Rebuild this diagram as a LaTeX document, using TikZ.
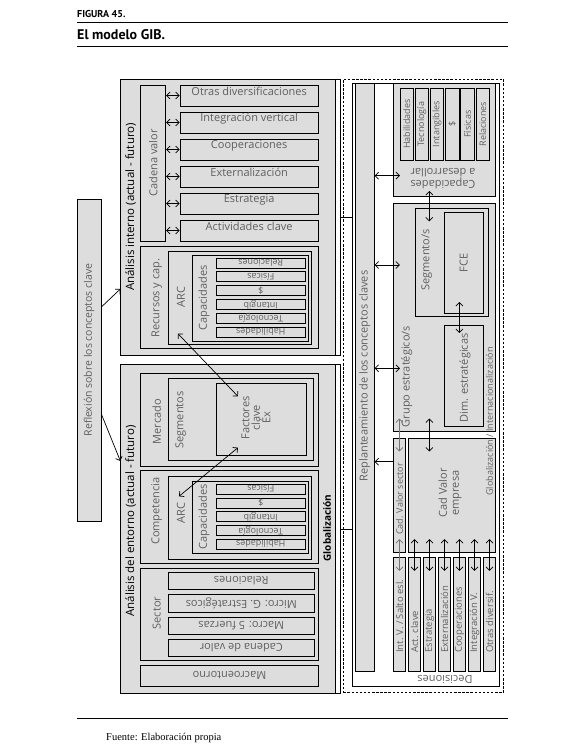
\documentclass[tikz,border=0pt]{standalone}
\usepackage{fontspec}
\setmainfont{Open Sans}
\newfontfamily\headfont{PT Sans}
\newfontfamily\notefont{Liberation Serif}
\usetikzlibrary{arrows.meta,positioning,fit}
\definecolor{boxgray}{RGB}{221,221,221}
\definecolor{labelgray}{RGB}{95,95,95}

\begin{document}
\begin{tikzpicture}[x=1pt, y=-1pt,
    box/.style={draw, fill=boxgray, line width=0.7pt, inner sep=0pt},
    frame/.style={draw, line width=0.7pt, inner sep=0pt},
    tag/.style={text=labelgray, font=\fontsize{11}{12}\selectfont, inner sep=0pt},
    tiny/.style={text=labelgray, font=\fontsize{9}{10}\selectfont, inner sep=0pt},
    title/.style={font=\fontsize{11.5}{12}\selectfont, inner sep=0pt},
    dbl/.style={{Straight Barb[length=3.5pt,width=7pt]}-{Straight Barb[length=3.5pt,width=7pt]}, line width=0.7pt},
    one/.style={-{Straight Barb[length=3.5pt,width=7pt]}, line width=0.7pt},
    deep/.style={shorten <=-13.5pt, shorten >=-13.5pt}
  ]
  \useasboundingbox (0,0) rectangle (584,754);

  % header and footer
  \node[anchor=base west, inner sep=0pt, font=\headfont\bfseries\fontsize{10}{11}\selectfont] (fig) at (77,18) {FIGURA 45.};
  \node[anchor=base west, inner sep=0pt, font=\headfont\bfseries\fontsize{14}{15}\selectfont] (ttl) at (77,39.5) {El modelo GIB.};
  \draw[line width=0.8pt] (77,22) -- (508,22);
  \draw[line width=0.8pt] (77,46.5) -- (508,46.5);
  \draw[line width=0.8pt] (77,718) -- (508,718);
  \node[anchor=base west, inner sep=0pt, font=\notefont\fontsize{10.5}{11}\selectfont] (src) at (106,740) {Fuente: Elaboración propia};

  % reflexion
  \node[box, fit={(77,199) (101,521)}] (refl) {};
  \node[tag, rotate=90, font=\fontsize{10.5}{11}\selectfont] (refllbl) at (89,350) {Reflexión sobre los conceptos clave};

  % analisis interno
  \node[box, fit={(120.7,79.7) (335,355)}] (intbox) {};
  \node[title, rotate=90] (intlbl) at (130.7,207) {Análisis interno (actual - futuro)};
  \node[box, fit={(140.7,85) (165.7,241.7)}] (cvbox) {};
  \node[tag, rotate=90] (cvlbl) at (153.2,163) {Cadena valor};
  \foreach \lab [count=\i from 0] in {Otras diversificaciones, Integración vertical, Cooperaciones, Externalización, Estrategia, Actividades clave} {
    \pgfmathsetmacro\ya{85+27*\i}
    \node[box, tag, text=labelgray, fit={(180,\ya) (318.3,\ya+21)}] (cv\i) {\lab};
    \draw[dbl] (cvbox.east |- cv\i.west) -- (cv\i.west);
  }
  \node[box, fit={(140.7,246.7) (318.3,348.3)}] (recint) {};
  \node[tag, rotate=90] (reclbl) at (156.7,298) {Recursos y cap.};
  \node[box, fit={(168.3,251.7) (311,344.3)}] (arcint) {};
  \node[tag, rotate=90] (arcilbl) at (181,297) {ARC};
  \node[box, fit={(192.3,255) (308.5,341)}] (capint) {};
  \node[tag, rotate=90] (capilbl) at (204,298) {Capacidades};
  \foreach \lab [count=\i from 0] in {Relaciones, Físicas, \$, Intangib, Tecnología, Habilidades} {
    \pgfmathsetmacro\ya{258+13.8*\i}
    \node[box, fit={(216,\ya) (305.5,\ya+10)}] (ci\i) {};
    \node[tiny, rotate=180] (cit\i) at (ci\i.center) {\lab};
  }

  % analisis del entorno
  \node[box, fit={(120.7,364.7) (335,693.3)}] (entbox) {};
  \node[title, rotate=90] (entlbl) at (130.7,521) {Análisis del entorno (actual - futuro)};
  \node[title, rotate=90, font=\bfseries\fontsize{10}{11}\selectfont] (globlbl) at (327,528) {Globalización};
  \node[box, fit={(140.7,373.3) (318.3,466)}] (merc) {};
  \node[tag, rotate=90] (merclbl) at (156.7,421.7) {Mercado};
  \node[box, fit={(168.3,378.3) (313.3,460)}] (segent) {};
  \node[tag, rotate=90] (seglbl) at (180.7,420) {Segmentos};
  \node[box, fit={(216.7,383.3) (306.7,455)}] (fac) {};
  \node[tag, rotate=90, align=center, font=\fontsize{11}{10.5}\selectfont] (faclbl) at (256,418) {Factores\\clave\\Éx};
  \node[box, fit={(140.7,470) (318.3,563.3)}] (comp) {};
  \node[tag, rotate=90] (complbl) at (156.7,511) {Competencia};
  \node[box, fit={(168.3,476) (311,559)}] (arcent) {};
  \node[tag, rotate=90] (arcelbl) at (181,513) {ARC};
  \node[box, fit={(192.3,481) (308.5,553.3)}] (capent) {};
  \node[tag, rotate=90] (capelbl) at (204,517) {Capacidades};
  \foreach \lab [count=\i from 0] in {Físicas, \$, Intangib, Tecnología, Habilidades} {
    \pgfmathsetmacro\ya{484.3+13.75*\i}
    \node[box, fit={(216,\ya) (305.5,\ya+10)}] (ce\i) {};
    \node[tiny, rotate=180] (cet\i) at (ce\i.center) {\lab};
  }
  \node[box, fit={(140.7,568.3) (318.3,660.7)}] (sect) {};
  \node[tag, rotate=90] (sectlbl) at (156.7,613) {Sector};
  \foreach \lab [count=\i from 0] in {Relaciones, Micro: G. Estratégicos, Macro: 5 fuerzas, Cadena de valor} {
    \pgfmathsetmacro\ya{572.3+22.3*\i}
    \node[box, fit={(168.3,\ya) (314.3,\ya+17.3)}] (se\i) {};
    \node[tag, rotate=180] (set\i) at (se\i.center) {\lab};
  }
  \node[box, fit={(140.7,665) (318.3,686.7)}] (macro) {};
  \node[tag, rotate=180] (macrolbl) at (macro.center) {Macroentorno};

  % links on the left
  \draw[one] ([yshift=53pt]refl.east) -- (intbox.west |- 0,289);
  \draw[one] ([yshift=-54pt]refl.east) -- (entbox.west |- 0,461);
  \draw[dbl] ([shift={(10,-11)}]arcint.south west) -- ([shift={(21.6,13.4)}]fac.north west);
  \draw[dbl] ([shift={(21.6,-7.7)}]fac.south west) -- ([shift={(11,20.7)}]arcent.north west);

  % right panel
  \node[draw, dashed, dash pattern=on 2.5pt off 1.6pt, line width=0.7pt, inner sep=0pt, fit={(343.3,79) (503.3,692.7)}] (outfr) {};
  \node[frame, fit={(352.7,83.3) (499.3,686)}] (decfr) {};
  \node[box, fit={(355,83.3) (374.3,671.7)}] (repl) {};
  \node[tag, rotate=90] (repllbl) at (364.7,376) {Replanteamiento de los conceptos claves};

  % brackets
  \draw[line width=0.7pt] ([xshift=1pt]intbox.north east) -| ([xshift=4.5pt]intbox.east) |- ([xshift=1pt]intbox.south east);
  \draw[line width=0.7pt] ([xshift=4.5pt]intbox.east) -- (decfr.west |- intbox.east);
  \draw[line width=0.7pt] ([xshift=1pt]entbox.north east) -| ([xshift=4.5pt]entbox.east) |- ([xshift=1pt]entbox.south east);
  \draw[line width=0.7pt] ([xshift=4.5pt]entbox.east) -- (decfr.west |- entbox.east);

  \node[box, fit={(393.3,83.3) (495.3,196.7)}] (capd) {};
  \foreach \lab [count=\i from 0] in {Habilidades, Tecnología, Intangibles, \$, Físicas, Relaciones} {
    \pgfmathsetmacro\xa{400+15.2*\i}
    \node[box, fit={(\xa,88.3) (\xa+13.3,160)}] (cd\i) {};
    \node[tiny, rotate=90] (cdt\i) at (cd\i.center) {\lab};
  }
  \node[tag, rotate=180, align=center] (capdlbl) at (443,178.5) {Capacidades\\a desarrollar};

  \node[box, fit={(393.3,203.3) (495,431.7)}] (grp) {};
  \node[tag, rotate=90] (grplbl) at (406.7,376.5) {Grupo estratégico/s};
  \node[box, fit={(415,208.3) (488.3,316)}] (seg) {};
  \node[tag, rotate=90] (segrlbl) at (426.7,260) {Segmento/s};
  \node[box, fit={(444.3,212.7) (483.3,313.3)}] (fce) {};
  \node[tag, rotate=90] (fcelbl) at (fce.center) {FCE};
  \node[box, fit={(444.3,325) (483.3,426.7)}] (dim) {};
  \node[tag, rotate=90] (dimlbl) at (465,378) {Dim. estratégicas};

  \node[box, fit={(393.3,438.3) (405.7,552.3)}] (cvs) {};
  \node[tiny, rotate=90] (cvslbl) at (399.5,499) {Cad. Valor sector};
  \node[box, fit={(408.3,438.3) (495,552.3)}] (cve) {};
  \node[tag, rotate=90, align=center] (cvelbl) at (450,493) {Cad Valor\\empresa};
  \node[tiny, rotate=90] (gilbl) at (489.5,421.5) {Globalización / Internacionalización};

  \foreach \lab [count=\i from 0] in {Int. V. / Salto esl., Act. clave, Estrategia, Externalización, Cooperaciones, Integración V., Otras diversif.} {
    \pgfmathsetmacro\xa{393.3+15*\i}
    \node[box, fit={(\xa,557.7) (\xa+12.4,671.7)}] (dec\i) {};
    \node[tiny, rotate=90, anchor=west, font=\fontsize{9.5}{10}\selectfont] (dect\i) at (\xa+6.2,653) {\lab};
  }
  \node[tag, rotate=180] (declbl) at (445,679.5) {Decisiones};

  % links on the right
  \draw[dbl, shorten >=-7pt] (repl.east |- 0,175.7) -- (capd.west |- 0,175.7);
  \draw[dbl, shorten >=-7pt] (repl.east |- 0,265) -- (grp.west |- 0,265);
  \draw[dbl, shorten >=-7pt] (repl.east |- 0,368.3) -- (grp.west |- 0,368.3);
  \draw[one] (cvs.west |- 0,461.7) -- (repl.east |- 0,461.7);
  \draw[dbl, shorten <=-6pt, shorten >=-13.4pt] (429.3,0 |- capd.south) -- (429.3,0 |- seg.north);
  \draw[dbl, shorten <=-11.6pt, shorten >=-8.3pt] (459.3,0 |- fce.south) -- (459.3,0 |- dim.north);
  \draw[dbl, deep, draw=black!55] (399.3,0 |- grp.south) -- (399.3,0 |- cvs.north);
  \draw[dbl, deep] (429.3,0 |- grp.south) -- (429.3,0 |- cve.north);
  \draw[dbl, deep, draw=black!55] (cvs.south) -- (dec0.north);
  \foreach \i in {1,...,6} {
    \draw[dbl, deep] (dec\i.north |- cve.south) -- (dec\i.north);
  }
\end{tikzpicture}
\end{document}
